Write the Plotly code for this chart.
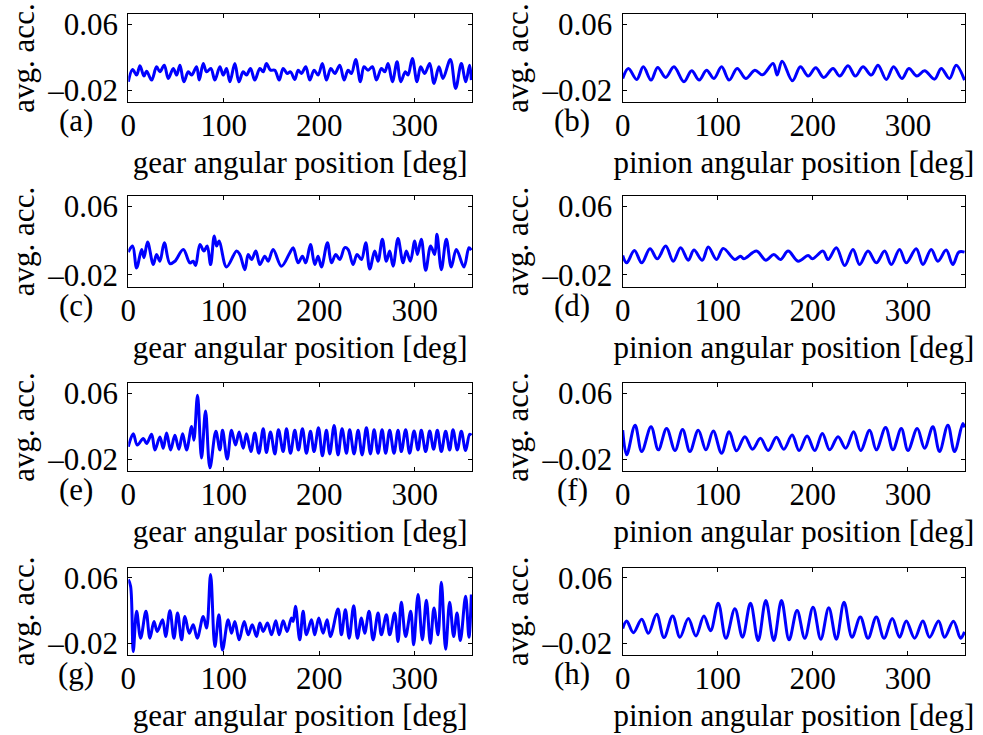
import plotly.graph_objects as go

# ---------------- data (x in degrees, y in units of 1e-3) ----------------
a_x = [0, 4.5, 8.7, 12.2, 16.4, 19.2, 24.4, 29.6, 33.1, 37.7, 41.9, 47.1, 50.6, 54.1, 58.2, 62.8, 66.3, 71.5, 74.3, 78.5,
       82.0, 86.5, 90.7, 95.9, 99.4, 102.9, 106.4, 111.6, 115.8, 120.3, 123.8, 128.0, 132.5, 137.8, 141.3, 144.7, 148.9,
       153.5, 158.0, 162.2, 166.4, 169.9, 174.4, 177.9, 181.4, 185.9, 190.1, 194.6, 198.8, 203.3, 207.5, 212.1, 216.3,
       221.5, 226.0, 230.2, 233.7, 238.2, 243.1, 246.9, 251.1, 255.7, 259.9, 265.1, 268.6, 272.1, 276.6, 281.5, 285.3,
       290.2, 293.0, 297.5, 302.4, 306.2, 310.4, 315.7, 320.2, 325.4, 329.6, 337.3, 342.9, 348.8, 353.4, 357.5, 359.3]
a_y = [-9.9, 5.0, -1.8, 9.5, -3.0, 3.0, -7.9, 8.3, 2.2, 10.3, -5.9, 6.3, -1.8, 10.3, -9.9, 2.2, -1.8, 8.3, -7.9, 12.3,
       2.2, 6.3, -7.9, 8.3, -1.8, 6.3, -9.9, 12.3, -9.9, 2.2, -1.8, 6.3, -7.9, 6.3, 2.2, 12.3, 4.2, 4.2, -7.9, 6.3, 0.2,
       2.2, -7.1, 4.2, 0.2, 8.3, -7.9, 4.2, -1.8, 12.3, -7.9, 6.3, 0.2, 10.3, -7.9, 4.2, 0.2, 17.2, -9.9, 8.3, 4.2, 8.3,
       -7.9, 6.3, 2.2, 12.3, -9.9, 14.3, -9.9, 2.2, -1.8, 18.4, -9.9, 8.3, 0.2, 12.3, -11.9, 8.3, -5.9, 17.2, -18.0,
       12.3, -9.9, 10.3, -7.9]

b_x = [0, 6.0, 14.7, 21.7, 29.8, 36.8, 45.2, 53.9, 64.4, 72.5, 80.5, 88.2, 95.9, 104.0, 112.0, 120.4, 129.5, 139.0,
       147.0, 158.2, 162.4, 167.7, 178.5, 186.9, 195.0, 203.0, 211.4, 221.2, 228.2, 237.0, 244.7, 252.7, 261.5, 268.5,
       277.2, 284.9, 293.7, 301.0, 309.4, 317.5, 328.0, 335.0, 343.7, 350.7, 359.5]
b_y = [-5.9, 6.3, -7.1, 8.3, -7.9, 7.5, -4.6, 8.3, -9.9, 3.4, -7.9, 4.2, -5.9, 8.3, -7.9, 6.3, -5.9, 4.2, -1.5, 12.3,
       -1.8, 15.2, -8.7, 8.3, -3.0, 7.1, -4.6, 6.3, -3.0, 9.5, -3.0, 8.3, -1.8, 10.3, -7.1, 8.3, -5.9, 6.3, -3.0, 3.4,
       -6.7, 6.3, -5.9, 10.3, -7.9]

c_x = [0, 4.5, 8.7, 14.0, 16.4, 20.2, 26.2, 29.6, 33.1, 37.7, 43.6, 48.8, 57.6, 64.5, 68.0, 70.5, 75.0, 79.2, 82.6,
       86.2, 90.0, 92.5, 95.2, 102.9, 113.4, 116.8, 122.1, 125.6, 129.1, 133.6, 137.8, 143.0, 146.5, 151.7, 160.4,
       169.2, 172.7, 177.9, 182.4, 185.9, 190.8, 195.3, 198.8, 202.3, 208.6, 212.8, 217.3, 221.5, 226.7, 230.2, 235.4,
       239.6, 244.2, 248.7, 252.9, 258.1, 261.6, 266.1, 270.3, 273.8, 277.3, 282.5, 287.8, 291.2, 295.4, 300.0, 302.8,
       306.9, 311.5, 316.7, 320.9, 323.3, 327.9, 333.1, 338.3, 343.6, 351.6, 356.8, 359.3]
c_y = [6.5, 13.7, -12.1, 9.7, 0, 18.4, -8.1, 3.8, -4.2, 17.6, -6.9, -4.2, 9.7, -6.1, -4.2, -9.3, 15.6, 7.7, 13.7, -8.1,
       25.5, 13.7, 19.6, -10.9, 7.7, 3.8, -14.1, 3.8, -2.2, 7.7, -8.1, 1.8, -4.2, 9.7, -10.1, 5.7, 11.7, -6.1, 1.8,
       -6.1, 15.6, -8.1, 1.8, -10.9, 17.6, -6.1, 3.8, -2.2, 11.7, 9.7, -8.1, 3.8, -2.2, 17.6, -13.3, 7.7, -4.2, 21.6,
       -4.2, 7.7, -10.1, 22.4, -6.1, 7.7, -4.2, 19.6, 3.8, 21.6, -14.9, 13.7, 3.8, 27.5, -14.1, 21.6, -10.9, 9.7,
       -10.9, 11.7, 8.9]

d_x = [0, 4.2, 12.3, 20.0, 28.7, 36.4, 45.2, 53.2, 60.9, 69.0, 74.9, 83.7, 90.0, 98.7, 105.7, 118.0, 123.9, 127.4,
       140.7, 150.5, 158.9, 165.9, 174.0, 184.5, 195.0, 199.5, 210.7, 216.0, 224.7, 233.5, 242.2, 249.2, 258.0, 266.7,
       275.5, 282.5, 291.2, 298.2, 308.7, 315.7, 324.5, 331.5, 340.2, 347.2, 353.5, 359.5]
d_y = [2.6, -6.1, 8.5, -6.1, 10.5, -1.4, 13.7, -4.2, 11.7, -3.0, 8.9, -3.0, 12.5, -2.2, 10.9, -2.2, 1.8, -1.4, 7.7,
       -3.0, 3.8, -2.2, 7.7, -4.2, 2.6, -1.4, 7.7, -2.2, 11.7, -9.3, 9.7, -8.1, 7.7, -6.1, 7.7, -8.1, 9.7, -6.1, 10.5,
       -8.1, 9.7, -4.2, 8.9, -8.1, 6.5, 6.5]

e_x = [0, 5.2, 9.4, 15.7, 19.2, 24.4, 27.9, 33.1, 36.6, 40.1, 44.3, 48.8, 53.0, 56.9, 61.0, 66.3, 68.7, 72.5, 76.7,
       80.9, 85.5, 91.7, 95.9, 98.7, 103.6, 108.1, 112.3, 116.1, 120.3, 123.8, 128.4, 132.5, 136.7, 141.3, 144.7,
       148.9, 153.5, 157.3, 162.2, 165.7, 169.9, 174.4, 178.2, 182.4, 186.6, 190.8, 194.6, 199.2, 203.3, 207.5, 211.0,
       215.6, 219.7, 223.9, 228.5, 231.9, 236.5, 240.7, 244.9, 249.4, 253.6, 257.5, 261.6, 265.8, 269.6, 273.8, 278.3,
       282.5, 286.0, 290.5, 294.7, 299.3, 303.5, 306.9, 311.5, 315.7, 319.8, 323.7, 327.9, 332.4, 336.6, 340.1, 344.6,
       348.8, 353.3, 357.5, 359.3]
e_y = [-5.0, 10.9, -3.0, 5.0, -1.0, 10.1, -8.9, 6.9, -6.9, 11.7, -8.9, 8.9, -8.1, 10.9, -8.9, 19.6, 3.0, 57.6, -18.8,
       38.6, -30.7, 13.7, -8.9, 14.9, -20.0, 14.9, -3.0, 12.9, -6.9, 10.9, -10.9, 11.7, -12.9, 16.8, -12.1, 12.9, -13.7,
       15.6, -10.9, 16.8, -12.9, 14.9, -8.9, 16.8, -12.9, 13.7, -10.9, 18.0, -16.0, 14.9, -13.7, 20.8, -14.9, 16.8,
       -12.9, 15.6, -13.7, 14.9, -14.9, 18.0, -13.7, 15.6, -12.9, 15.6, -12.9, 14.9, -12.9, 14.9, -10.9, 15.6, -12.9,
       14.1, -8.9, 14.9, -10.9, 14.1, -8.1, 14.9, -10.9, 13.7, -8.9, 15.6, -8.9, 13.7, -9.7, 10.1, 8.9]

f_x = [0, 4.2, 13.0, 20.0, 29.8, 37.5, 46.2, 55.0, 63.0, 70.7, 79.5, 87.5, 95.2, 104.0, 112.0, 119.7, 128.5, 136.5,
       144.9, 153.0, 161.7, 169.4, 178.2, 185.5, 193.9, 202.0, 210.0, 217.7, 226.5, 234.5, 242.9, 250.3, 259.7, 266.7,
       276.5, 284.2, 293.0, 300.0, 309.8, 317.5, 326.2, 333.2, 342.0, 349.0, 357.7, 359.5]
f_y = [15.2, -14.8, 21.2, -10.8, 19.2, -8.8, 17.2, -9.6, 16.0, -10.8, 15.2, -8.8, 14.0, -12.8, 13.2, -10.0, 7.2, -8.0,
       5.2, -9.6, 6.4, -8.0, 9.2, -9.6, 8.0, -9.6, 11.2, -8.8, 7.2, -6.8, 13.2, -9.6, 15.2, -8.8, 18.4, -8.8, 17.2,
       -9.6, 17.2, -6.8, 19.2, -10.8, 21.2, -10.8, 23.2, 18.4]

g_x = [0, 2.4, 5.2, 8.7, 12.9, 18.5, 22.7, 26.9, 30.3, 35.9, 39.1, 43.6, 47.8, 51.6, 55.8, 59.3, 63.8, 68.0, 72.2,
       78.5, 82.0, 86.2, 90.7, 94.9, 98.7, 104.6, 108.1, 111.6, 116.1, 121.4, 125.6, 129.8, 134.3, 137.8, 141.3, 145.8,
       150.0, 154.5, 158.0, 162.2, 166.4, 170.9, 172.7, 175.1, 179.6, 183.1, 186.6, 191.8, 195.3, 199.5, 204.0, 208.2,
       211.7, 219.7, 223.2, 227.4, 231.3, 236.1, 240.0, 244.2, 247.6, 252.2, 256.4, 261.6, 265.1, 270.3, 273.8, 279.0,
       282.5, 286.0, 290.5, 295.8, 298.9, 303.5, 308.0, 312.2, 316.4, 320.2, 324.4, 327.9, 332.4, 336.6, 340.8, 344.3,
       347.8, 353.3, 356.8, 359.3]
g_y = [57.8, 49.6, -30.3, 18.9, -13.9, 18.9, -13.9, 6.6, -5.7, 8.6, -11.9, 19.7, -13.9, 16.8, -16.0, 12.7, -7.8, 2.5,
       -13.9, 12.7, -1.6, 64.0, -24.2, 14.8, -28.3, 8.6, -7.8, 6.6, -16.0, 6.6, -9.8, 2.5, -11.9, 4.5, -5.7, 4.5, -9.8,
       7.4, -9.8, 7.4, -5.7, 10.7, 6.6, 25.0, -16.0, 18.9, -9.8, 8.6, -9.8, 10.7, -7.8, 8.6, -11.9, 21.7, -9.8, 20.9,
       -13.9, 25.8, -13.9, 10.7, -7.8, 18.9, -16.0, 16.8, -9.8, 14.8, -9.8, 16.8, -18.0, 29.9, -11.9, 18.9, -22.1,
       39.4, -16.0, 32.4, -20.1, 23.0, -9.8, 54.5, -27.5, 29.9, -11.9, 16.8, -16.8, 37.3, -12.7, 39.4]

h_x = [0, 4.2, 11.2, 20.0, 27.0, 35.7, 43.4, 52.5, 60.2, 69.0, 77.0, 85.4, 92.4, 100.5, 108.5, 118.0, 126.0, 134.4,
       142.5, 150.5, 158.9, 167.0, 175.0, 183.4, 191.5, 200.2, 208.3, 216.7, 224.7, 232.8, 241.2, 249.9, 258.0, 266.7,
       274.8, 283.5, 291.2, 298.2, 307.0, 315.7, 322.7, 332.2, 338.5, 347.9, 355.3, 359.5]
h_y = [-2.0, 7.2, -7.2, 9.2, -8.0, 15.2, -13.2, 13.2, -12.8, 10.0, -11.2, 13.2, -4.8, 28.8, -14.0, 22.0, -12.8, 28.8,
       -16.8, 32.0, -16.8, 32.0, -16.0, 20.0, -14.0, 24.0, -15.2, 23.2, -15.2, 30.0, -12.8, 12.0, -14.0, 12.0, -14.0,
       10.0, -12.8, 7.2, -14.0, 7.2, -12.8, 7.2, -12.8, 6.8, -14.0, -6.0]

series_x = [a_x, b_x, c_x, d_x, e_x, f_x, g_x, h_x]
series_y = [a_y, b_y, c_y, d_y, e_y, f_y, g_y, h_y]
panel_labels = ["(a)", "(b)", "(c)", "(d)", "(e)", "(f)", "(g)", "(h)"]
x_titles = ["gear angular position [deg]", "pinion angular position [deg]"]
y_title = "avg. acc."
x_tickvals = [0, 100, 200, 300]
y_tickvals = [-0.02, 0.06]
y_ticktext = ["\u20130.02", "0.06"]

# ---------------- layout geometry (pixels) ----------------
W, H = 983, 735
col_px = [(128.3, 472.0), (622.7, 965.0)]
row_px = [(14.0, 102.0), (196.0, 287.0), (383.0, 471.0), (567.5, 655.0)]
FONT = "Liberation Serif"
FS = 31

fig = go.Figure()
layout = dict(width=W, height=H, margin=dict(l=0, r=0, t=0, b=0, pad=0, autoexpand=False),
              paper_bgcolor="white", plot_bgcolor="white", showlegend=False,
              font=dict(family=FONT, size=FS, color="black"))
annotations = []
for i in range(8):
    r, c = divmod(i, 2)
    n = "" if i == 0 else str(i + 1)
    x0, x1 = col_px[c]
    t, b = row_px[r]
    fig.add_trace(go.Scatter(x=series_x[i], y=[v / 1000.0 for v in series_y[i]],
                             mode="lines", line=dict(color="#0000ff", width=3, shape="spline", smoothing=1.0),
                             xaxis="x" + n, yaxis="y" + n, hoverinfo="skip"))
    layout["xaxis" + n] = dict(domain=[x0 / W, x1 / W], anchor="y" + n, range=[0, 360], automargin=False,
                               tickvals=x_tickvals, ticks="inside", ticklen=4, tickcolor="black",
                               showline=True, mirror="ticks", linecolor="black", linewidth=1.3,
                               showgrid=False, zeroline=False, tickfont=dict(family=FONT, size=FS),
                               ticklabelstandoff=-4,
                               title=dict(text=x_titles[c], font=dict(family=FONT, size=FS), standoff=8))
    layout["yaxis" + n] = dict(domain=[1 - b / H, 1 - t / H], anchor="x" + n, range=[-0.0345, 0.0725],
                               automargin=False,
                               tickvals=y_tickvals, ticktext=y_ticktext, ticks="inside", ticklen=4,
                               tickcolor="black", showline=True, mirror="ticks", linecolor="black",
                               linewidth=1.3, showgrid=False, zeroline=False,
                               tickfont=dict(family=FONT, size=FS), ticklabelstandoff=3,
                               title=dict(text=y_title, font=dict(family=FONT, size=FS), standoff=3))
    annotations.append(dict(text=panel_labels[i], xref="paper", yref="paper",
                            x=(76 if c == 0 else 572) / W, y=1 - (b + 18.5) / H,
                            xanchor="center", yanchor="middle", showarrow=False,
                            font=dict(family=FONT, size=FS, color="black")))
layout["annotations"] = annotations
fig.update_layout(**layout)
fig.write_html("out.html")
